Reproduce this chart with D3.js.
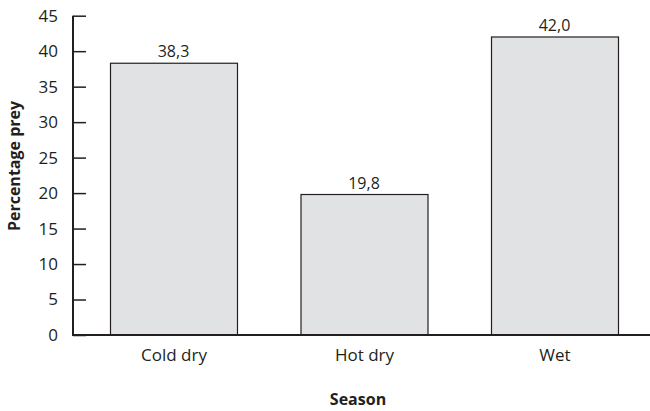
<!DOCTYPE html>
<html>
<head>
<meta charset="utf-8">
<script src="https://cdn.jsdelivr.net/npm/d3@7"></script>
<style>
  body { margin: 0; background: #fff; }
  text { font-family: "Open Sans", sans-serif; fill: #231f20; }
</style>
</head>
<body>
<div id="plot"></div>
<script>
// Data
var seasons = ["Cold dry", "Hot dry", "Wet"];
var preyPct = [38.3, 19.8, 42.0];
var valueLabels = ["38,3", "19,8", "42,0"];
var yTicks = [0, 5, 10, 15, 20, 25, 30, 35, 40, 45];

var W = 650, H = 411;
var x0 = 73, x1 = 650, yTop = 15.7, yBase = 335;
var ink = "#231f20";

var svg = d3.select("#plot").append("svg")
    .attr("width", W)
    .attr("height", H);

// Scales
var xScale = d3.scaleBand()
    .domain(seasons)
    .range([78.25, 649.75])
    .paddingInner(1 / 3)
    .paddingOuter(1 / 6);

var yScale = d3.scaleLinear()
    .domain([0, 45])
    .range([yBase, yTop]);

// Bars
svg.selectAll(".bar")
    .data(seasons)
    .enter().append("rect")
    .attr("class", "bar")
    .attr("x", function (d) { return xScale(d) + 0.5; })
    .attr("y", function (d, i) { return yScale(preyPct[i]); })
    .attr("width", xScale.bandwidth())
    .attr("height", function (d, i) { return yBase - yScale(preyPct[i]); })
    .attr("fill", "#e1e2e3")
    .attr("stroke", ink)
    .attr("stroke-width", 1.2);

// Value labels
svg.selectAll(".val")
    .data(seasons)
    .enter().append("text")
    .attr("class", "val")
    .attr("x", function (d) { return xScale(d) + xScale.bandwidth() / 2; })
    .attr("y", function (d, i) { return yScale(preyPct[i]) - 6; })
    .attr("text-anchor", "middle")
    .style("font-size", "16px")
    .text(function (d, i) { return valueLabels[i]; });

// Y axis, ticks pointing inward
var yAxis = svg.append("g")
    .attr("transform", "translate(" + x0 + ",0)")
    .call(d3.axisLeft(yScale).tickValues(yTicks).tickSize(-13).tickPadding(15));
yAxis.select(".domain").remove();
yAxis.selectAll(".tick line").attr("stroke", ink).attr("stroke-width", 1.5);
yAxis.selectAll(".tick text")
    .style("font-size", "17px")
    .style("font-family", "'Open Sans', sans-serif")
    .attr("fill", ink);
svg.append("line")
    .attr("x1", x0).attr("x2", x0)
    .attr("y1", yTop).attr("y2", yBase + 1)
    .attr("stroke", ink).attr("stroke-width", 2);

// X axis
var xAxis = svg.append("g")
    .attr("transform", "translate(0," + yBase + ")")
    .call(d3.axisBottom(xScale).tickSize(0).tickPadding(14));
xAxis.select(".domain").remove();
xAxis.selectAll(".tick")
    .attr("transform", function (d) { return "translate(" + (xScale(d) + xScale.bandwidth() / 2 + 0.5) + ",0)"; });
xAxis.selectAll(".tick text")
    .style("font-size", "17px")
    .style("font-family", "'Open Sans', sans-serif")
    .attr("fill", ink);
svg.append("line")
    .attr("x1", x0 - 1).attr("x2", x1)
    .attr("y1", yBase).attr("y2", yBase)
    .attr("stroke", ink).attr("stroke-width", 2);

// Axis titles
svg.append("text")
    .attr("transform", "translate(20," + 166 + ") rotate(-90)")
    .attr("text-anchor", "middle")
    .style("font-size", "16px")
    .style("font-weight", "bold")
    .text("Percentage prey");

svg.append("text")
    .attr("x", 358)
    .attr("y", 405)
    .attr("text-anchor", "middle")
    .style("font-size", "16px")
    .style("font-weight", "bold")
    .text("Season");
</script>
</body>
</html>
